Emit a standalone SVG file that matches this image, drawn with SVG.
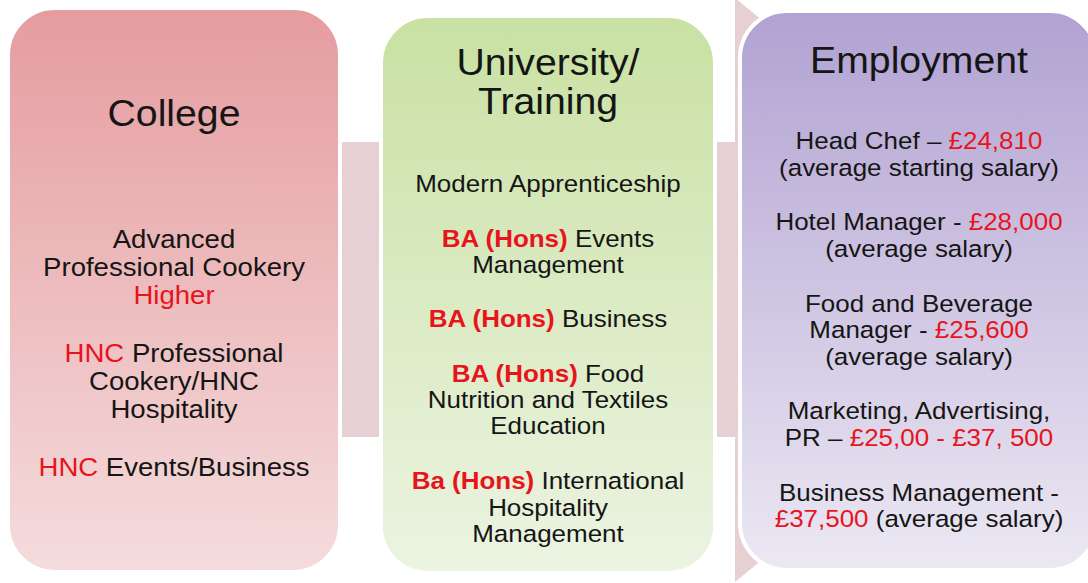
<svg xmlns="http://www.w3.org/2000/svg" width="1088" height="583" viewBox="0 0 1088 583">
<style>
.t{font-family:"Liberation Sans",Arial,sans-serif;fill:#151515;text-anchor:middle}
.h{font-size:37px}
.c{font-size:26px}
.b{font-size:24.5px}
.r{fill:#e8141c}
.rb{fill:#e8141c;font-weight:bold}
.box{stroke:#ffffff;stroke-width:4}
</style>
<defs>
<linearGradient id="gRed" x1="0" y1="0" x2="0" y2="1">
<stop offset="0" stop-color="#e59c9f"/>
<stop offset="1" stop-color="#f5dcdd"/>
</linearGradient>
<linearGradient id="gGreen" x1="0" y1="0" x2="0" y2="1">
<stop offset="0" stop-color="#c9e1a3"/>
<stop offset="1" stop-color="#ecf4e2"/>
</linearGradient>
<linearGradient id="gPurple" x1="0" y1="0" x2="0" y2="1">
<stop offset="0" stop-color="#b1a2d2"/>
<stop offset="1" stop-color="#ece8f3"/>
</linearGradient>
</defs>
<rect width="1088" height="583" fill="#ffffff"/>
<g id="connectors">
<polygon points="330,142 735,142 735,-2 1092,290 735,582 735,437 330,437" fill="#e7d0d3"/>
</g>
<g id="college">
<rect class="box" x="8" y="8" width="332" height="564" rx="47" fill="url(#gRed)"/>
<g transform="translate(174 0) scale(1.06 1)">
<text class="t h" x="0" y="126">College</text>
<text class="t c" x="0" y="248">Advanced</text>
<text class="t c" x="0" y="276">Professional Cookery</text>
<text class="t c r" x="0" y="304">Higher</text>
<text class="t c" x="0" y="362"><tspan class="r">HNC</tspan> Professional</text>
<text class="t c" x="0" y="390">Cookery/HNC</text>
<text class="t c" x="0" y="418">Hospitality</text>
<text class="t c" x="0" y="476"><tspan class="r">HNC</tspan> Events/Business</text>
</g>
</g>
<g id="university">
<rect class="box" x="381" y="16" width="334" height="557" rx="47" fill="url(#gGreen)"/>
<g transform="translate(548 0) scale(1.06 1)">
<text class="t h" x="0" y="75">University/</text>
<text class="t h" x="0" y="114">Training</text>
<text class="t b" x="0" y="192">Modern Apprenticeship</text>
<text class="t b" x="0" y="247"><tspan class="rb">BA (Hons)</tspan> Events</text>
<text class="t b" x="0" y="273">Management</text>
<text class="t b" x="0" y="327"><tspan class="rb">BA (Hons)</tspan> Business</text>
<text class="t b" x="0" y="382"><tspan class="rb">BA (Hons)</tspan> Food</text>
<text class="t b" x="0" y="408">Nutrition and Textiles</text>
<text class="t b" x="0" y="434">Education</text>
<text class="t b" x="0" y="489"><tspan class="rb">Ba (Hons)</tspan> International</text>
<text class="t b" x="0" y="516">Hospitality</text>
<text class="t b" x="0" y="542">Management</text>
</g>
</g>
<g id="employment">
<rect class="box" x="740" y="11" width="357" height="559" rx="47" fill="url(#gPurple)"/>
<g transform="translate(919 0) scale(1.06 1)">
<text class="t h" x="0" y="73">Employment</text>
<text class="t b" x="0" y="149">Head Chef – <tspan class="r">£24,810</tspan></text>
<text class="t b" x="0" y="176">(average starting salary)</text>
<text class="t b" x="0" y="230">Hotel Manager - <tspan class="r">£28,000</tspan></text>
<text class="t b" x="0" y="257">(average salary)</text>
<text class="t b" x="0" y="312">Food and Beverage</text>
<text class="t b" x="0" y="338">Manager - <tspan class="r">£25,600</tspan></text>
<text class="t b" x="0" y="365">(average salary)</text>
<text class="t b" x="0" y="419">Marketing, Advertising,</text>
<text class="t b" x="0" y="446">PR – <tspan class="r">£25,00 - £37, 500</tspan></text>
<text class="t b" x="0" y="501">Business Management -</text>
<text class="t b" x="0" y="527"><tspan class="r">£37,500</tspan> (average salary)</text>
</g>
</g>
</svg>
